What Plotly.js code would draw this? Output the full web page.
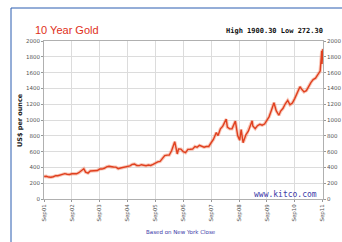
<!DOCTYPE html>
<html><head><meta charset="utf-8">
<script src="https://cdn.plot.ly/plotly-3.0.1.min.js"></script>
<style>html,body{margin:0;padding:0;background:#fff;}#c{width:342px;height:242px;}</style>
</head><body><div id="c"></div>
<script>
const dates = [
"2001-09-03","2001-10-01","2001-11-01","2001-11-20","2001-12-01",
"2002-01-01","2002-02-01","2002-03-01","2002-04-01","2002-05-01","2002-06-01","2002-07-01","2002-08-01","2002-09-01","2002-10-01","2002-11-01","2002-12-01",
"2003-01-01","2003-02-05","2003-03-01","2003-04-01","2003-05-01","2003-06-01","2003-07-01","2003-08-01","2003-09-01","2003-10-01","2003-11-01","2003-12-01",
"2004-01-01","2004-02-01","2004-03-01","2004-04-01","2004-05-01","2004-06-01","2004-07-01","2004-08-01","2004-09-01","2004-10-01","2004-11-01","2004-12-01",
"2005-01-01","2005-02-01","2005-03-01","2005-04-01","2005-05-01","2005-06-01","2005-07-01","2005-08-01","2005-09-01","2005-10-01","2005-11-01","2005-12-01",
"2006-01-01","2006-02-01","2006-03-01","2006-04-01","2006-05-12","2006-06-14","2006-07-01","2006-08-01","2006-09-01","2006-10-01","2006-11-01","2006-12-01",
"2007-01-01","2007-02-01","2007-03-01","2007-04-01","2007-05-01","2007-06-01","2007-07-01","2007-08-01","2007-09-01","2007-10-01","2007-11-08","2007-12-01",
"2008-01-01","2008-02-01","2008-03-17","2008-04-01","2008-05-01","2008-06-01","2008-07-15","2008-08-15","2008-09-10","2008-09-29","2008-10-24","2008-11-15","2008-12-01",
"2009-01-01","2009-02-20","2009-03-01","2009-04-01","2009-05-01","2009-06-01","2009-07-01","2009-08-01","2009-09-01","2009-10-01","2009-11-01","2009-12-03",
"2010-01-01","2010-02-05","2010-03-01","2010-04-01","2010-05-01","2010-06-01","2010-07-01","2010-08-01","2010-09-01","2010-10-01","2010-11-09","2010-12-01",
"2011-01-01","2011-02-01","2011-03-01","2011-04-01","2011-05-01","2011-06-01","2011-07-01","2011-08-01","2011-08-22","2011-08-25","2011-09-06"
];
const prices = [
285,288,278,272,276,
282,296,294,302,314,321,314,310,319,317,319,333,
357,382,340,328,355,356,351,360,379,379,389,407,
414,405,406,404,384,392,398,401,406,420,439,442,
424,423,434,429,422,430,424,438,456,470,476,510,
549,555,557,610,725,570,633,632,598,586,628,629,
631,665,655,679,667,655,665,665,712,754,841,803,
889,922,1011,909,888,889,986,800,745,880,713,760,816,
858,990,924,890,928,945,934,949,996,1043,1127,1218,
1118,1060,1113,1148,1205,1248,1193,1215,1271,1342,1421,1391,
1356,1372,1424,1474,1512,1529,1573,1620,1877,1710,1900
];
const yTicks = [0,200,400,600,800,1000,1200,1400,1600,1800,2000];
const yTickText = ["0","200","400","600","800","1000","1200","1400","1600","1800","2000"];
const xTickVals = ["2001-09-01","2002-09-01","2003-09-01","2004-09-01","2005-09-01","2006-09-01","2007-09-01","2008-09-01","2009-09-01","2010-09-01","2011-09-01"];
const xTickText = ["Sep01","Sep02","Sep03","Sep04","Sep05","Sep06","Sep07","Sep08","Sep09","Sep10","Sep11"];
const titleText = "10 Year Gold";
const rangeText = "High 1900.30 Low 272.30";
const yTitle = "US$ per ounce";
const siteText = "www.kitco.com";
const footText = "Based on New York Close";

const L=44,R=323,T=41,B=199,W=342,H=242;
const px=x=>(x-L)/(R-L), py=y=>(B-y)/(B-T);

const data = [
 {x:dates,y:prices,type:'scatter',mode:'lines',line:{color:'rgba(240,130,100,0.45)',width:3.4},hoverinfo:'skip',showlegend:false,yaxis:'y'},
 {x:dates,y:prices,type:'scatter',mode:'lines',line:{color:'#e0401f',width:1.4},showlegend:false,yaxis:'y2'}
];
const axY = {range:[0,2000],tickvals:yTicks,ticktext:yTickText,showgrid:true,gridcolor:'#dcdcdc',gridwidth:1,
  zeroline:false,showline:true,linecolor:'#b0b0b0',linewidth:1,ticks:'outside',ticklen:2,tickcolor:'#999',
  tickfont:{family:'DejaVu Sans, sans-serif',size:5.5,color:'#555'},fixedrange:true};
const layout = {
  width:W,height:H,margin:{l:L,r:W-R,t:T,b:H-B,pad:0},
  paper_bgcolor:'#fff',plot_bgcolor:'#fff',showlegend:false,
  xaxis:{type:'date',range:['2001-09-01','2011-09-07'],tickvals:xTickVals,ticktext:xTickText,tickangle:-90,
    showgrid:true,gridcolor:'#dcdcdc',gridwidth:1,showline:true,linecolor:'#b0b0b0',linewidth:1,mirror:true,
    ticks:'outside',ticklen:2,tickcolor:'#999',tickfont:{family:'DejaVu Sans, sans-serif',size:5.5,color:'#555'}},
  yaxis:Object.assign({},axY,{side:'left'}),
  yaxis2:Object.assign({},axY,{side:'right',overlaying:'y',showgrid:false}),
  shapes:[{type:'rect',xref:'paper',yref:'paper',x0:px(11),x1:px(360),y0:py(8),y1:py(260),line:{color:'#2a5db0',width:1},fillcolor:'rgba(0,0,0,0)',layer:'below'}],
  annotations:[
    {text:titleText,xref:'paper',yref:'paper',x:px(33),y:py(30),xanchor:'left',yanchor:'middle',showarrow:false,
     font:{family:'Liberation Sans, Arial, sans-serif',size:11,color:'#e0301a'}},
    {text:'<b>'+rangeText+'</b>',xref:'paper',yref:'paper',x:px(325),y:py(31),xanchor:'right',yanchor:'middle',showarrow:false,
     font:{family:'DejaVu Sans Mono, monospace',size:7,color:'#111'}},
    {text:'<b>'+yTitle+'</b>',xref:'paper',yref:'paper',x:px(20),y:py(120),textangle:-90,xanchor:'center',yanchor:'middle',showarrow:false,
     font:{family:'DejaVu Sans, sans-serif',size:6.5,color:'#222'}},
    {text:siteText,xref:'paper',yref:'paper',x:px(319),y:py(194),xanchor:'right',yanchor:'middle',showarrow:false,
     font:{family:'DejaVu Sans Mono, monospace',size:8,color:'#3a3aa8'}},
    {text:footText,xref:'paper',yref:'paper',x:px(181),y:py(232),xanchor:'center',yanchor:'middle',showarrow:false,
     font:{family:'DejaVu Sans, sans-serif',size:5.5,color:'#3a3aa8'}}
  ]
};
Plotly.newPlot('c',data,layout,{staticPlot:true,displayModeBar:false});
</script></body></html>
